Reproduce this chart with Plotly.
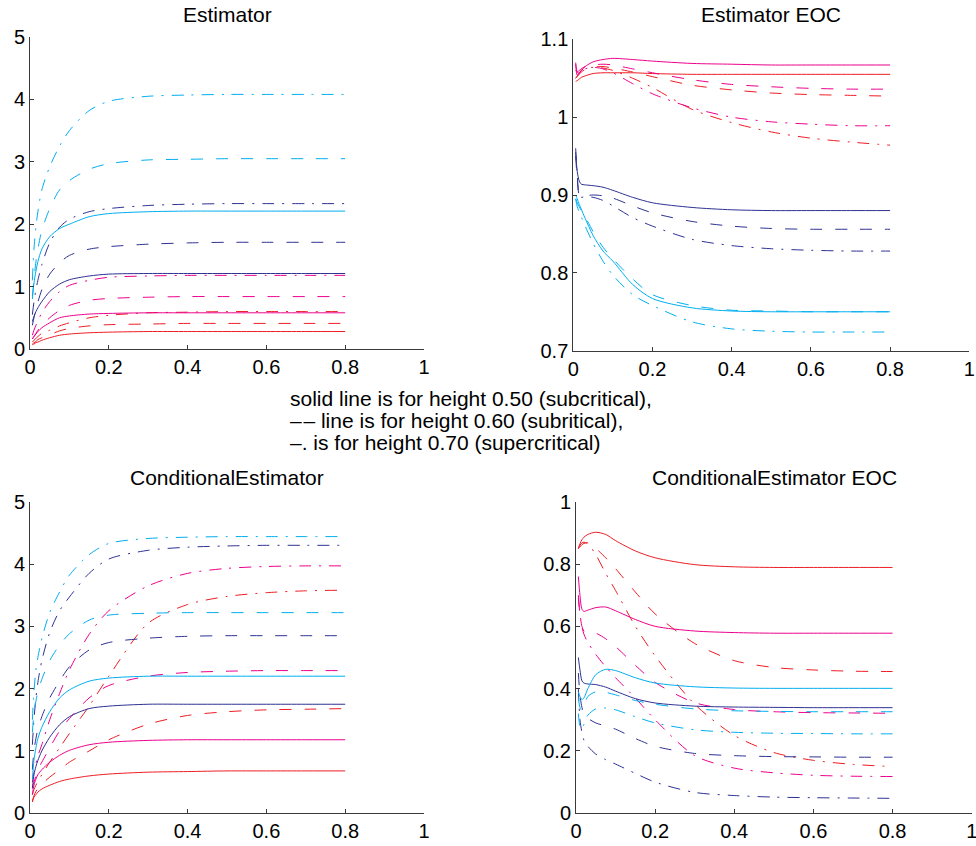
import plotly.graph_objects as go

# ---------------- data ----------------
x_grid = [0.006, 0.01, 0.015, 0.02, 0.03, 0.05, 0.075, 0.1, 0.15, 0.2, 0.3, 0.4, 0.5, 0.6, 0.7, 0.8]

# Panel 1: Estimator
est_red_solid = [0.07, 0.08, 0.1, 0.11, 0.14, 0.18, 0.22, 0.24, 0.26, 0.27, 0.28, 0.28, 0.28, 0.28, 0.28, 0.28]
est_red_dash = [0.08, 0.1, 0.12, 0.15, 0.18, 0.23, 0.29, 0.33, 0.37, 0.39, 0.4, 0.41, 0.41, 0.41, 0.41, 0.41]
est_red_dashdot = [0.11, 0.14, 0.17, 0.2, 0.25, 0.3, 0.37, 0.42, 0.5, 0.54, 0.58, 0.59, 0.6, 0.6, 0.6, 0.6]
est_mag_solid = [0.16, 0.2, 0.24, 0.28, 0.34, 0.42, 0.5, 0.53, 0.56, 0.57, 0.58, 0.58, 0.58, 0.58, 0.58, 0.58]
est_mag_dash = [0.16, 0.2, 0.25, 0.3, 0.38, 0.5, 0.62, 0.7, 0.78, 0.81, 0.83, 0.84, 0.84, 0.84, 0.84, 0.84]
est_mag_dashdot = [0.22, 0.3, 0.38, 0.45, 0.58, 0.76, 0.92, 1.02, 1.1, 1.15, 1.17, 1.18, 1.18, 1.18, 1.18, 1.18]
est_navy_solid = [0.44, 0.52, 0.6, 0.66, 0.76, 0.92, 1.04, 1.11, 1.17, 1.2, 1.21, 1.21, 1.21, 1.21, 1.21, 1.21]
est_navy_dash = [0.38, 0.5, 0.63, 0.75, 0.95, 1.2, 1.38, 1.5, 1.6, 1.64, 1.68, 1.7, 1.71, 1.71, 1.71, 1.71]
est_navy_dashdot = [0.55, 0.75, 0.95, 1.1, 1.35, 1.7, 1.95, 2.08, 2.2, 2.25, 2.3, 2.32, 2.33, 2.33, 2.33, 2.33]
est_cyan_solid = [0.8, 1.05, 1.25, 1.4, 1.6, 1.8, 1.93, 2.0, 2.12, 2.17, 2.2, 2.21, 2.21, 2.21, 2.21, 2.21]
est_cyan_dash = [0.85, 1.1, 1.4, 1.6, 1.9, 2.25, 2.55, 2.7, 2.88, 2.97, 3.03, 3.04, 3.05, 3.05, 3.05, 3.05]
est_cyan_dashdot = [1.1, 1.6, 1.95, 2.2, 2.55, 2.92, 3.25, 3.5, 3.82, 3.97, 4.05, 4.07, 4.08, 4.08, 4.08, 4.08]

# Panel 2: Estimator EOC
eoc_red_solid = [1.046, 1.047, 1.049, 1.051, 1.053, 1.056, 1.057, 1.057, 1.057, 1.056, 1.055, 1.055, 1.055, 1.055, 1.055, 1.055]
eoc_red_dash = [1.05, 1.052, 1.055, 1.058, 1.061, 1.064, 1.065, 1.063, 1.058, 1.052, 1.041, 1.035, 1.031, 1.029, 1.028, 1.027]
eoc_red_dashdot = [1.05, 1.053, 1.057, 1.06, 1.063, 1.064, 1.063, 1.06, 1.05, 1.038, 1.01, 0.993, 0.981, 0.973, 0.968, 0.964]
eoc_mag_solid = [1.068, 1.054, 1.056, 1.06, 1.065, 1.071, 1.074, 1.0755, 1.074, 1.072, 1.069, 1.068, 1.067, 1.067, 1.067, 1.067]
eoc_mag_dash = [1.06, 1.058, 1.06, 1.062, 1.065, 1.067, 1.068, 1.067, 1.062, 1.057, 1.048, 1.042, 1.039, 1.037, 1.036, 1.036]
eoc_mag_dashdot = [1.07, 1.058, 1.056, 1.058, 1.062, 1.064, 1.062, 1.057, 1.043, 1.03, 1.012, 1.0, 0.994, 0.991, 0.989, 0.989]
eoc_navy_solid = [0.955, 0.93, 0.918, 0.914, 0.913, 0.912, 0.91, 0.906, 0.897, 0.89, 0.884, 0.881, 0.88, 0.88, 0.88, 0.88]
eoc_navy_dash = [0.95, 0.92, 0.9, 0.898, 0.899, 0.9, 0.899, 0.896, 0.886, 0.877, 0.866, 0.86, 0.857, 0.856, 0.856, 0.856]
eoc_navy_dashdot = [0.96, 0.925, 0.9, 0.897, 0.898, 0.897, 0.893, 0.886, 0.871, 0.86, 0.843, 0.835, 0.831, 0.829, 0.828, 0.828]
eoc_cyan_solid = [0.9, 0.895, 0.888, 0.882, 0.87, 0.848, 0.828, 0.815, 0.785, 0.767, 0.755, 0.751, 0.75, 0.75, 0.75, 0.75]
eoc_cyan_dash = [0.895, 0.89, 0.885, 0.88, 0.872, 0.853, 0.833, 0.818, 0.792, 0.772, 0.758, 0.752, 0.751, 0.75, 0.75, 0.75]
eoc_cyan_dashdot = [0.895, 0.885, 0.878, 0.872, 0.86, 0.838, 0.815, 0.797, 0.772, 0.758, 0.737, 0.728, 0.725, 0.724, 0.724, 0.724]

# Panel 3: ConditionalEstimator
cond_red_solid = [0.18, 0.26, 0.3, 0.34, 0.39, 0.45, 0.51, 0.55, 0.6, 0.63, 0.66, 0.67, 0.68, 0.68, 0.68, 0.68]
cond_red_dash = [0.2, 0.28, 0.35, 0.4, 0.47, 0.58, 0.7, 0.82, 1.0, 1.18, 1.43, 1.57, 1.63, 1.66, 1.67, 1.68]
cond_red_dashdot = [0.3, 0.38, 0.45, 0.52, 0.62, 0.82, 1.05, 1.28, 1.72, 2.2, 3.05, 3.35, 3.48, 3.54, 3.57, 3.58]
cond_mag_solid = [0.3, 0.45, 0.55, 0.62, 0.7, 0.82, 0.93, 1.01, 1.1, 1.14, 1.17, 1.18, 1.18, 1.18, 1.18, 1.18]
cond_mag_dash = [0.4, 0.5, 0.6, 0.7, 0.82, 1.05, 1.32, 1.52, 1.85, 2.05, 2.2, 2.26, 2.28, 2.29, 2.29, 2.29]
cond_mag_dashdot = [0.5, 0.65, 0.8, 0.92, 1.1, 1.5, 1.92, 2.3, 2.87, 3.25, 3.65, 3.85, 3.93, 3.96, 3.97, 3.97]
cond_navy_solid = [0.4, 0.62, 0.75, 0.85, 1.0, 1.22, 1.42, 1.55, 1.68, 1.72, 1.75, 1.75, 1.75, 1.75, 1.75, 1.75]
cond_navy_dash = [0.7, 1.0, 1.2, 1.35, 1.55, 1.85, 2.12, 2.35, 2.62, 2.74, 2.81, 2.84, 2.85, 2.85, 2.85, 2.85]
cond_navy_dashdot = [1.1, 1.5, 1.85, 2.1, 2.45, 2.9, 3.25, 3.47, 3.85, 4.08, 4.22, 4.27, 4.29, 4.3, 4.3, 4.3]
cond_cyan_solid = [0.55, 0.85, 1.05, 1.2, 1.38, 1.63, 1.85, 1.98, 2.12, 2.17, 2.2, 2.2, 2.2, 2.2, 2.2, 2.2]
cond_cyan_dash = [1.3, 1.6, 1.8, 1.95, 2.15, 2.45, 2.7, 2.88, 3.1, 3.18, 3.21, 3.22, 3.22, 3.22, 3.22, 3.22]
cond_cyan_dashdot = [1.5, 1.95, 2.3, 2.5, 2.8, 3.22, 3.55, 3.82, 4.15, 4.33, 4.41, 4.43, 4.44, 4.44, 4.44, 4.44]

# Panel 4: ConditionalEstimator EOC
ceoc_red_solid = [0.85, 0.865, 0.878, 0.886, 0.895, 0.902, 0.895, 0.875, 0.842, 0.82, 0.798, 0.791, 0.789, 0.789, 0.789, 0.789]
ceoc_red_dash = [0.85, 0.855, 0.862, 0.866, 0.868, 0.85, 0.82, 0.785, 0.71, 0.64, 0.545, 0.49, 0.468, 0.46, 0.456, 0.455]
ceoc_red_dashdot = [0.85, 0.86, 0.868, 0.87, 0.865, 0.83, 0.77, 0.715, 0.6, 0.505, 0.35, 0.25, 0.195, 0.17, 0.157, 0.15]
ceoc_mag_solid = [0.76, 0.7, 0.655, 0.648, 0.652, 0.66, 0.662, 0.65, 0.622, 0.6, 0.585, 0.58, 0.578, 0.578, 0.578, 0.578]
ceoc_mag_dash = [0.7, 0.64, 0.6, 0.585, 0.58, 0.578, 0.56, 0.535, 0.475, 0.42, 0.355, 0.333, 0.326, 0.323, 0.322, 0.321]
ceoc_mag_dashdot = [0.69, 0.64, 0.6, 0.575, 0.548, 0.51, 0.47, 0.435, 0.37, 0.3, 0.185, 0.145, 0.13, 0.122, 0.119, 0.118]
ceoc_navy_solid = [0.5, 0.46, 0.425, 0.418, 0.415, 0.413, 0.405, 0.392, 0.368, 0.354, 0.344, 0.341, 0.34, 0.339, 0.339, 0.339]
ceoc_navy_dash = [0.45, 0.38, 0.34, 0.32, 0.305, 0.29, 0.28, 0.27, 0.24, 0.215, 0.192, 0.185, 0.182, 0.181, 0.18, 0.18]
ceoc_navy_dashdot = [0.4, 0.3, 0.26, 0.235, 0.215, 0.19, 0.172, 0.158, 0.128, 0.1, 0.067, 0.057, 0.052, 0.05, 0.049, 0.048]
ceoc_cyan_solid = [0.39, 0.375, 0.365, 0.37, 0.4, 0.445, 0.462, 0.458, 0.435, 0.418, 0.406, 0.402, 0.401, 0.401, 0.401, 0.401]
ceoc_cyan_dash = [0.37, 0.34, 0.33, 0.345, 0.375, 0.39, 0.388, 0.38, 0.362, 0.35, 0.335, 0.329, 0.327, 0.326, 0.326, 0.326]
ceoc_cyan_dashdot = [0.32, 0.28, 0.27, 0.285, 0.315, 0.335, 0.338, 0.332, 0.31, 0.29, 0.268, 0.26, 0.257, 0.256, 0.255, 0.255]

panel_titles = ["Estimator", "Estimator EOC", "ConditionalEstimator", "ConditionalEstimator EOC"]
x_ticks = [0, 0.2, 0.4, 0.6, 0.8, 1]
note_lines = [
    "solid line is for height 0.50 (subcritical),",
    "\u2013\u200a\u2013 line is for height 0.60 (subritical),",
    "\u2013. is for height 0.70 (supercritical)",
]

# ---------------- styles ----------------
COLORS = {"red": "#ed1c24", "mag": "#ec008c", "navy": "#2e3192", "cyan": "#00aeef"}
DASHES = {"solid": "solid", "dash": "12px,13px", "dashdot": "12px,8px,2px,8px"}
W, H = 976, 846
FONT = "Liberation Sans, Arial, Helvetica, sans-serif"

panels = [
    ("x", "y", {
        ("red", "solid"): est_red_solid, ("red", "dash"): est_red_dash, ("red", "dashdot"): est_red_dashdot,
        ("mag", "solid"): est_mag_solid, ("mag", "dash"): est_mag_dash, ("mag", "dashdot"): est_mag_dashdot,
        ("navy", "solid"): est_navy_solid, ("navy", "dash"): est_navy_dash, ("navy", "dashdot"): est_navy_dashdot,
        ("cyan", "solid"): est_cyan_solid, ("cyan", "dash"): est_cyan_dash, ("cyan", "dashdot"): est_cyan_dashdot,
    }),
    ("x2", "y2", {
        ("red", "solid"): eoc_red_solid, ("red", "dash"): eoc_red_dash, ("red", "dashdot"): eoc_red_dashdot,
        ("mag", "solid"): eoc_mag_solid, ("mag", "dash"): eoc_mag_dash, ("mag", "dashdot"): eoc_mag_dashdot,
        ("navy", "solid"): eoc_navy_solid, ("navy", "dash"): eoc_navy_dash, ("navy", "dashdot"): eoc_navy_dashdot,
        ("cyan", "solid"): eoc_cyan_solid, ("cyan", "dash"): eoc_cyan_dash, ("cyan", "dashdot"): eoc_cyan_dashdot,
    }),
    ("x3", "y3", {
        ("red", "solid"): cond_red_solid, ("red", "dash"): cond_red_dash, ("red", "dashdot"): cond_red_dashdot,
        ("mag", "solid"): cond_mag_solid, ("mag", "dash"): cond_mag_dash, ("mag", "dashdot"): cond_mag_dashdot,
        ("navy", "solid"): cond_navy_solid, ("navy", "dash"): cond_navy_dash, ("navy", "dashdot"): cond_navy_dashdot,
        ("cyan", "solid"): cond_cyan_solid, ("cyan", "dash"): cond_cyan_dash, ("cyan", "dashdot"): cond_cyan_dashdot,
    }),
    ("x4", "y4", {
        ("red", "solid"): ceoc_red_solid, ("red", "dash"): ceoc_red_dash, ("red", "dashdot"): ceoc_red_dashdot,
        ("mag", "solid"): ceoc_mag_solid, ("mag", "dash"): ceoc_mag_dash, ("mag", "dashdot"): ceoc_mag_dashdot,
        ("navy", "solid"): ceoc_navy_solid, ("navy", "dash"): ceoc_navy_dash, ("navy", "dashdot"): ceoc_navy_dashdot,
        ("cyan", "solid"): ceoc_cyan_solid, ("cyan", "dash"): ceoc_cyan_dash, ("cyan", "dashdot"): ceoc_cyan_dashdot,
    }),
]

fig = go.Figure()
for xa, ya, series in panels:
    for (col, sty), vals in series.items():
        fig.add_trace(go.Scatter(
            x=x_grid, y=vals, xaxis=xa, yaxis=ya, mode="lines",
            line=dict(color=COLORS[col], width=1, dash=DASHES[sty], shape="spline", smoothing=0.8),
            showlegend=False, hoverinfo="skip",
        ))

# pixel -> paper helpers
def px(v):
    return v / W

def py(v):
    return 1 - v / H

axis_common = dict(showgrid=False, zeroline=False, showline=True, linecolor="#3a3a3a", linewidth=1,
                   ticks="inside", ticklen=4, tickcolor="#3a3a3a", mirror=False, automargin=False,
                   ticklabeloverflow="allow",
                   tickfont=dict(family=FONT, size=20, color="black"))

boxes = {
    "1": (30, 424, 37, 349),
    "2": (573.3, 969.3, 39.3, 350.7),
    "3": (30, 424, 501.7, 813.3),
    "4": (576, 971.7, 501.7, 813.3),
}
yranges = {"1": [0, 5], "2": [0.7, 1.1], "3": [0, 5], "4": [0, 1]}
ydticks = {"1": 1, "2": 0.1, "3": 1, "4": 0.2}

layout = dict(width=W, height=H, margin=dict(l=0, r=0, t=0, b=0, pad=0), template="none",
              plot_bgcolor="white", paper_bgcolor="white", showlegend=False)
for k, (x0, x1, y0, y1) in boxes.items():
    xn = "xaxis" if k == "1" else "xaxis" + k
    yn = "yaxis" if k == "1" else "yaxis" + k
    anchor_x = "y" if k == "1" else "y" + k
    anchor_y = "x" if k == "1" else "x" + k
    layout[xn] = dict(axis_common, domain=[px(x0), px(x1)], range=[0, 1], tickvals=x_ticks,
                      anchor=anchor_x)
    layout[yn] = dict(axis_common, domain=[py(y1), py(y0)], range=yranges[k], dtick=ydticks[k],
                      tick0=yranges[k][0], anchor=anchor_y)
fig.update_layout(**layout)

title_pos = [(227, 14), (771, 14), (227, 477), (774, 477)]
for t, (cx, cy) in zip(panel_titles, title_pos):
    fig.add_annotation(text=t, x=px(cx), y=py(cy), xref="paper", yref="paper",
                       xanchor="center", yanchor="middle", showarrow=False,
                       font=dict(family=FONT, size=21, color="black"))

for i, line in enumerate(note_lines):
    fig.add_annotation(text=line, x=px(288), y=py(398 + 22 * i), xref="paper", yref="paper",
                       xanchor="left", yanchor="middle", showarrow=False,
                       font=dict(family=FONT, size=21, color="black"))

fig.write_html("out.html")
